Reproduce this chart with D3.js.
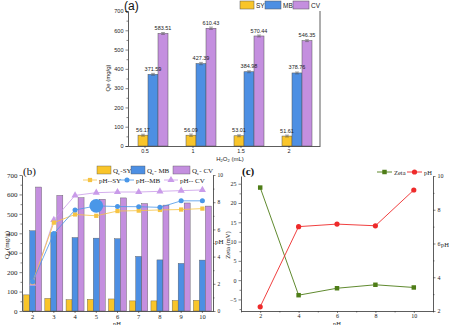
<!DOCTYPE html>
<html>
<head>
<meta charset="utf-8">
<script src="https://cdn.jsdelivr.net/npm/d3@7"></script>
<style>
  body { margin: 0; background: #fff; }
  svg { display: block; }
  .sans text { font-family: "Liberation Sans", Arial, sans-serif; }
  .serif text { font-family: "Liberation Serif", "Times New Roman", serif; }
</style>
</head>
<body>
<svg id="chart" width="449" height="325"></svg>
<script>
// ---- data: panel (a) ----
const h2o2Levels = ["0.5", "1", "1.5", "2"];
const qeSY_a = [56.17, 56.09, 53.01, 51.61];
const qeMB_a = [371.59, 427.39, 384.98, 378.76];
const qeCV_a = [583.51, 610.43, 570.44, 546.35];
const errA = [5, 6, 5, 5];

// ---- data: panel (b) ----
const phLevels = ["2", "3", "4", "5", "6", "7", "8", "9", "10"];
const qeSY_b = [83, 65, 58, 60, 62, 52, 52, 54, 55];
const qeMB_b = [413, 403, 378, 375, 372, 281, 263, 245, 262];
const qeCV_b = [638, 595, 583, 575, 582, 553, 545, 556, 540];
const phSY = [2.1, 6.5, 7.1, 7.0, 7.35, 7.38, 7.43, 7.46, 7.53];
const phMB = [2.15, 5.7, 7.43, 7.73, 7.68, 7.67, 7.62, 8.1, 8.1];
const phCV = [2.0, 6.7, 8.5, 8.7, 8.75, 8.75, 8.8, 8.85, 8.9];

// ---- data: panel (c) ----
const zetaPHs = [2, 4, 6, 8, 10];
const zetaVals = [24.0, -3.9, -2.1, -1.2, -1.9];
const finalPH = [2.25, 7.0, 7.15, 7.05, 9.17];

const cYellow = "#f9c52a", cBlue = "#4d8fe3", cPurple = "#c48fdf";
const svg = d3.select("#chart");
svg.append("rect").attr("width", 449).attr("height", 325).attr("fill", "#fff");

function styleAxis(g, size) {
  g.selectAll("path.domain").attr("stroke", "#333").attr("stroke-width", 0.8);
  g.selectAll(".tick line").attr("stroke", "#333").attr("stroke-width", 0.6);
  g.selectAll(".tick text").attr("fill", "#222").style("font-size", size + "px");
}

// text with a subscript "e" after Q
function qeText(t, rest, subSize) {
  t.append("tspan").text("Q");
  t.append("tspan").attr("dy", 1.5).style("font-size", subSize + "px").text("e");
  t.append("tspan").attr("dy", -1.5).text(rest);
}

// ================= panel (a) =================
const pa = svg.append("g").attr("class", "sans");
const xA = d3.scaleBand().domain(h2o2Levels).range([128, 320]);
const yA = d3.scaleLinear().domain([0, 700]).range([146, 11]);
const subA = d3.scaleBand().domain(["SY", "MB", "CV"]).range([-15, 15]);
const seriesA = [
  { key: "SY", vals: qeSY_a, color: cYellow },
  { key: "MB", vals: qeMB_a, color: cBlue },
  { key: "CV", vals: qeCV_a, color: cPurple }
];
const barXA = (s, i) => xA(h2o2Levels[i]) + xA.bandwidth() / 2 + 1 + subA(s.key);

const barsA = pa.append("g");
const errsA = pa.append("g");
const labsA = pa.append("g");
seriesA.forEach(s => {
  s.vals.forEach((v, i) => {
    const x0 = barXA(s, i);
    barsA.append("rect")
      .attr("x", x0).attr("y", yA(v))
      .attr("width", subA.bandwidth()).attr("height", yA(0) - yA(v))
      .attr("fill", s.color).attr("stroke", "#555").attr("stroke-width", 0.5);
    const xm = x0 + subA.bandwidth() / 2;
    const e = errA[i];
    errsA.append("path")
      .attr("d", `M${xm},${yA(v + e)}V${yA(v - e)}M${xm - 2},${yA(v + e)}H${xm + 2}M${xm - 2},${yA(v - e)}H${xm + 2}`)
      .attr("stroke", "#555").attr("stroke-width", 0.5).attr("fill", "none");
    labsA.append("text")
      .attr("x", xm).attr("y", yA(v + e) - 2.5)
      .attr("text-anchor", "middle")
      .style("font-size", "5.5px").attr("fill", "#222")
      .text(v.toFixed(2));
  });
});

const axA = pa.append("g").attr("transform", "translate(128,0)")
  .call(d3.axisLeft(yA).tickValues(d3.range(0, 701, 100)).tickSize(2.5).tickPadding(2));
styleAxis(axA, 5.5);
const axAm = pa.append("g").attr("transform", "translate(128,0)")
  .call(d3.axisLeft(yA).tickValues(d3.range(50, 700, 100)).tickSize(1.5).tickFormat(""));
styleAxis(axAm, 5.5);
axAm.select("path.domain").remove();
const axAb = pa.append("g").attr("transform", "translate(0,146)")
  .call(d3.axisBottom(xA).tickSize(2).tickPadding(1.5).tickSizeOuter(0));
styleAxis(axAb, 5.5);
axAb.selectAll(".tick").attr("transform", d => `translate(${xA(d) + xA.bandwidth() / 2 - 7},0)`);
pa.append("line").attr("x1", 320).attr("x2", 320).attr("y1", 11).attr("y2", 146)
  .attr("stroke", "#333").attr("stroke-width", 0.8);

pa.append("text").attr("x", 124).attr("y", 10).style("font-size", "12px").attr("fill", "#111").text("(a)");
pa.append("text").attr("transform", "translate(110,78) rotate(-90)")
  .attr("text-anchor", "middle").style("font-size", "6px").attr("fill", "#222").text("Qe (mg/g)");
const xlabA = pa.append("text").attr("x", 230).attr("y", 160.5).attr("text-anchor", "middle")
  .style("font-size", "6px").attr("fill", "#222");
xlabA.append("tspan").text("H");
xlabA.append("tspan").attr("dy", 1.2).style("font-size", "4px").text("2");
xlabA.append("tspan").attr("dy", -1.2).text("O");
xlabA.append("tspan").attr("dy", 1.2).style("font-size", "4px").text("2");
xlabA.append("tspan").attr("dy", -1.2).text(" (mL)");

const legA = [
  { label: "SY", color: cYellow, x: 240, w: 14 },
  { label: "MB", color: cBlue, x: 265, w: 16 },
  { label: "CV", color: cPurple, x: 293, w: 16 }
];
legA.forEach(l => {
  pa.append("rect").attr("x", l.x).attr("y", 1).attr("width", l.w).attr("height", 8)
    .attr("fill", l.color).attr("stroke", "#555").attr("stroke-width", 0.5);
  pa.append("text").attr("x", l.x + l.w + 2).attr("y", 8).style("font-size", "6.5px")
    .attr("fill", "#222").text(l.label);
});

// ================= panel (b) =================
const pb = svg.append("g").attr("class", "serif");
const xB = d3.scaleBand().domain(phLevels).range([22, 213]);
const yB = d3.scaleLinear().domain([0, 700]).range([311, 175]);
const yB2 = d3.scaleLinear().domain([0, 10]).range([311, 175]);
const subB = d3.scaleBand().domain(["SY", "MB", "CV"]).range([-9, 9]);
const cxB = d => xB(d) + xB.bandwidth() / 2;

const seriesB = [
  { key: "SY", vals: qeSY_b, color: cYellow },
  { key: "MB", vals: qeMB_b, color: cBlue },
  { key: "CV", vals: qeCV_b, color: cPurple }
];
seriesB.forEach(s => {
  pb.append("g").selectAll("rect").data(s.vals).join("rect")
    .attr("x", (v, i) => cxB(phLevels[i]) + subB(s.key))
    .attr("y", v => yB(v))
    .attr("width", subB.bandwidth())
    .attr("height", v => yB(0) - yB(v))
    .attr("fill", s.color).attr("stroke", "#555").attr("stroke-width", 0.4);
});

const lineB = d3.line().x((v, i) => cxB(phLevels[i])).y(v => yB2(v));
const linesB = [
  { vals: phCV, color: "#c99be9", sym: d3.symbolTriangle, size: 22 },
  { vals: phSY, color: "#f6c343", sym: d3.symbolSquare, size: 18 },
  { vals: phMB, color: "#4a97e8", sym: d3.symbolCircle, size: 20 }
];
linesB.forEach(l => {
  pb.append("path").datum(l.vals).attr("d", lineB)
    .attr("fill", "none").attr("stroke", l.color).attr("stroke-width", 0.8);
  pb.append("g").selectAll("path").data(l.vals).join("path")
    .attr("transform", (v, i) => `translate(${cxB(phLevels[i])},${yB2(v)})`)
    .attr("d", (v, i) => d3.symbol(l.sym, (l.sym === d3.symbolCircle && i === 3) ? 150 : l.size)())
    .attr("fill", l.color);
});

const axB = pb.append("g").attr("transform", "translate(22,0)")
  .call(d3.axisLeft(yB).tickValues(d3.range(0, 701, 100)).tickSize(2.5).tickPadding(2).tickSizeOuter(0));
styleAxis(axB, 7);
const axBm = pb.append("g").attr("transform", "translate(22,0)")
  .call(d3.axisLeft(yB).tickValues(d3.range(50, 700, 100)).tickSize(1.5).tickFormat(""));
styleAxis(axBm, 7); axBm.select("path.domain").remove();
const axBb = pb.append("g").attr("transform", "translate(0,311)")
  .call(d3.axisBottom(xB).tickSize(2).tickPadding(1).tickSizeOuter(0));
styleAxis(axBb, 6.5);
const axBr = pb.append("g").attr("transform", "translate(213,0)")
  .call(d3.axisRight(yB2).tickValues(d3.range(0, 11, 2)).tickSize(2.5).tickPadding(2).tickSizeOuter(0));
styleAxis(axBr, 5.5);
const axBrm = pb.append("g").attr("transform", "translate(213,0)")
  .call(d3.axisRight(yB2).tickValues(d3.range(1, 10, 2)).tickSize(1.5).tickFormat(""));
styleAxis(axBrm, 5.5); axBrm.select("path.domain").remove();

pb.append("text").attr("x", 23).attr("y", 175).style("font-size", "11px").attr("fill", "#111").text("(b)");
qeText(pb.append("text").attr("transform", "translate(9,245) rotate(-90)")
  .attr("text-anchor", "middle").style("font-size", "7px").attr("fill", "#222"), " (mg/g)", 5);
pb.append("text").attr("x", 117).attr("y", 325.5).attr("text-anchor", "middle")
  .style("font-size", "6.5px").attr("fill", "#222").text("pH");
pb.append("text").attr("x", 215).attr("y", 244).style("font-size", "7px").attr("fill", "#222").text("pH");

// legend (b) row 1
const legB1 = [
  { name: "-SY", color: cYellow, x: 97, w: 14 },
  { name: "- MB", color: cBlue, x: 131, w: 14 },
  { name: "- CV", color: cPurple, x: 173, w: 17 }
];
legB1.forEach(l => {
  pb.append("rect").attr("x", l.x).attr("y", 166).attr("width", l.w).attr("height", 8)
    .attr("fill", l.color).attr("stroke", "#555").attr("stroke-width", 0.4);
  qeText(pb.append("text").attr("x", l.x + l.w + 2).attr("y", 173)
    .style("font-size", "7px").attr("fill", "#222"), l.name, 5);
});
// legend (b) row 2
const legB2 = [
  { label: "pH--SY", color: "#f6c343", sym: d3.symbolSquare, size: 18, x: 83 },
  { label: "pH--MB", color: "#4a97e8", sym: d3.symbolCircle, size: 20, x: 120 },
  { label: "pH-- CV", color: "#c99be9", sym: d3.symbolTriangle, size: 22, x: 164 }
];
legB2.forEach(l => {
  pb.append("line").attr("x1", l.x).attr("x2", l.x + 14).attr("y1", 180).attr("y2", 180)
    .attr("stroke", l.color).attr("stroke-width", 0.8);
  pb.append("path").attr("transform", `translate(${l.x + 7},180)`)
    .attr("d", d3.symbol(l.sym, l.size)()).attr("fill", l.color);
  pb.append("text").attr("x", l.x + 16).attr("y", 182.5)
    .style("font-size", "7px").attr("fill", "#222").text(l.label);
});

// ================= panel (c) =================
const pc = svg.append("g").attr("class", "serif");
const xC = d3.scaleLinear().domain([1, 11]).range([241, 433]);
const yC = d3.scaleLinear().domain([-8, 27]).range([311, 176]);
const yC2 = d3.scaleLinear().domain([2, 10]).range([311, 176]);
const cGreen = "#4e7d17", cRed = "#ee2a2a";

pc.append("path").datum(zetaVals)
  .attr("d", d3.line().x((v, i) => xC(zetaPHs[i])).y(v => yC(v)))
  .attr("fill", "none").attr("stroke", cGreen).attr("stroke-width", 0.9);
pc.append("g").selectAll("path").data(zetaVals).join("path")
  .attr("transform", (v, i) => `translate(${xC(zetaPHs[i])},${yC(v)})`)
  .attr("d", d3.symbol(d3.symbolSquare, 20)()).attr("fill", cGreen);
pc.append("path").datum(finalPH)
  .attr("d", d3.line().x((v, i) => xC(zetaPHs[i])).y(v => yC2(v)))
  .attr("fill", "none").attr("stroke", cRed).attr("stroke-width", 0.9);
pc.append("g").selectAll("circle").data(finalPH).join("circle")
  .attr("cx", (v, i) => xC(zetaPHs[i])).attr("cy", v => yC2(v)).attr("r", 2.6)
  .attr("fill", cRed);

const axC = pc.append("g").attr("transform", "translate(241,0)")
  .call(d3.axisLeft(yC).tickValues(d3.range(-5, 26, 5)).tickSize(2.5).tickPadding(2).tickSizeOuter(0));
styleAxis(axC, 6);
const axCm = pc.append("g").attr("transform", "translate(241,0)")
  .call(d3.axisLeft(yC).tickValues(d3.range(-7.5, 27, 5)).tickSize(1.5).tickFormat(""));
styleAxis(axCm, 6); axCm.select("path.domain").remove();
const axCb = pc.append("g").attr("transform", "translate(0,311)")
  .call(d3.axisBottom(xC).tickValues(d3.range(2, 11, 2)).tickSize(2).tickPadding(1).tickSizeOuter(0));
styleAxis(axCb, 6);
const axCbm = pc.append("g").attr("transform", "translate(0,311)")
  .call(d3.axisBottom(xC).tickValues(d3.range(1, 12, 2)).tickSize(1.5).tickFormat(""));
styleAxis(axCbm, 6); axCbm.select("path.domain").remove();
const axCr = pc.append("g").attr("transform", "translate(433,0)")
  .call(d3.axisRight(yC2).tickValues(d3.range(2, 11, 2)).tickSize(2.5).tickPadding(2).tickSizeOuter(0));
styleAxis(axCr, 6);
const axCrm = pc.append("g").attr("transform", "translate(433,0)")
  .call(d3.axisRight(yC2).tickValues(d3.range(3, 10, 2)).tickSize(1.5).tickFormat(""));
styleAxis(axCrm, 6); axCrm.select("path.domain").remove();

pc.append("text").attr("x", 242).attr("y", 175).style("font-size", "11px")
  .style("font-weight", "bold").attr("fill", "#111").text("(c)");
pc.append("text").attr("transform", "translate(230,245) rotate(-90)")
  .attr("text-anchor", "middle").style("font-size", "6.5px").attr("fill", "#222").text("Zeta (mV)");
pc.append("text").attr("x", 337).attr("y", 325.5).attr("text-anchor", "middle")
  .style("font-size", "6.5px").attr("fill", "#222").text("pH");
pc.append("text").attr("x", 441).attr("y", 247).style("font-size", "6.5px").attr("fill", "#222").text("pH");

// legend (c)
pc.append("line").attr("x1", 377).attr("x2", 392).attr("y1", 172).attr("y2", 172)
  .attr("stroke", cGreen).attr("stroke-width", 0.9);
pc.append("path").attr("transform", "translate(384.5,172)")
  .attr("d", d3.symbol(d3.symbolSquare, 20)()).attr("fill", cGreen);
pc.append("text").attr("x", 394).attr("y", 174.5).style("font-size", "6.5px").attr("fill", "#222").text("Zeta");
pc.append("line").attr("x1", 407).attr("x2", 422).attr("y1", 172).attr("y2", 172)
  .attr("stroke", cRed).attr("stroke-width", 0.9);
pc.append("circle").attr("cx", 414.5).attr("cy", 172).attr("r", 2.6).attr("fill", cRed);
pc.append("text").attr("x", 424).attr("y", 174.5).style("font-size", "6.5px").attr("fill", "#222").text("pH");
</script>
</body>
</html>
